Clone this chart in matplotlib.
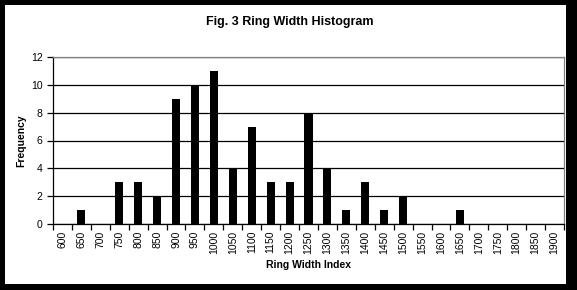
import numpy as np
import matplotlib.pyplot as plt
from matplotlib.patches import Rectangle

plt.rcParams['font.family'] = ['Liberation Sans', 'DejaVu Sans']

bins = [str(b) for b in range(600, 1901, 50)]
freq = [0, 1, 0, 3, 3, 2, 9, 10, 11, 4, 7, 3, 3, 8, 4, 1, 3, 1, 2, 0, 0, 1,
        0, 0, 0, 0, 0]

fig = plt.figure(figsize=(5.77, 2.9), dpi=100)
fig.patch.set_facecolor('black')
# white chart area inside the black frame
fig.patches.append(Rectangle((5/577, 6/290), 561/577, 279/290,
                             transform=fig.transFigure, facecolor='white',
                             edgecolor='none', zorder=-1))

ax = fig.add_axes([53/577, 1 - 224/290, 511/577, 167/290])
ax.set_zorder(2)
x = np.arange(len(bins))
ax.bar(x, freq, width=0.43, color='black', zorder=3)

ax.set_xlim(-0.5, len(bins) - 0.5)
ax.set_ylim(0, 12)
ax.set_yticks(range(0, 13, 2))
ax.yaxis.grid(True, color='black', linewidth=0.9)
ax.set_axisbelow(True)

ax.set_xticks(x)
ax.set_xticklabels(bins, rotation=90, fontsize=7.5)
ax.set_xticks(np.arange(-0.5, len(bins)), minor=True)
ax.tick_params(axis='x', which='major', length=0, pad=5)
ax.tick_params(axis='x', which='minor', length=4, width=0.9, direction='out')
ax.tick_params(axis='y', length=4, width=0.9, labelsize=7.5, direction='out')

for s in ['left', 'bottom']:
    ax.spines[s].set_color('black')
    ax.spines[s].set_linewidth(0.9)
for s in ['top', 'right']:
    ax.spines[s].set_color('#808080')
    ax.spines[s].set_linewidth(0.9)

ax.set_xlabel('Ring Width Index', fontsize=7.5, fontweight='bold', labelpad=4)
ax.set_ylabel('Frequency', fontsize=7.5, fontweight='bold', labelpad=3)
fig.text(0.503, 1 - 22/290, 'Fig. 3 Ring Width Histogram', ha='center',
         va='center', fontsize=9, fontweight='bold', zorder=3)

fig.savefig('out.png', dpi=100, facecolor=fig.get_facecolor())
